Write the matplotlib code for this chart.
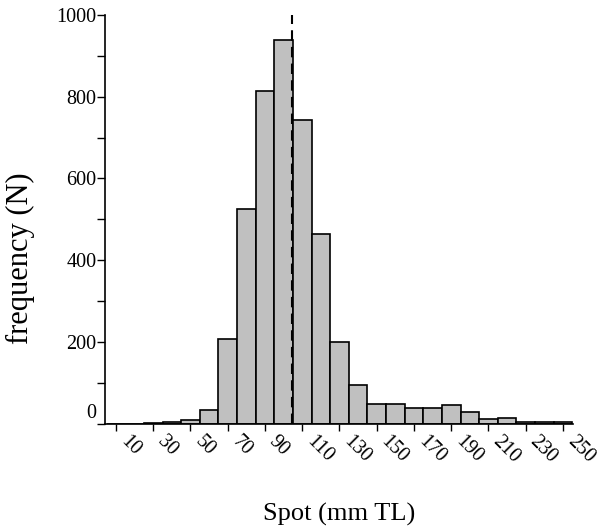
import matplotlib.pyplot as plt
import matplotlib.transforms as mtransforms
import numpy as np

# size classes (mm TL), bar centres
size_class = [10, 20, 30, 40, 50, 60, 70, 80, 90, 100, 110, 120, 130,
              140, 150, 160, 170, 180, 190, 200, 210, 220, 230, 240, 250]
frequency = [0, 0, 1, 4, 8, 32, 207, 525, 815, 940, 743, 464, 200,
             94, 48, 48, 38, 38, 45, 27, 10, 14, 3, 3, 3]
mean_size = 104.3
tick_labels = [10, 30, 50, 70, 90, 110, 130, 150, 170, 190, 210, 230, 250]

plt.rcParams['font.family'] = ['Liberation Serif', 'DejaVu Serif']

fig = plt.figure(figsize=(6.03, 5.31), dpi=100)
ax = fig.add_axes([105/603, 1 - 423.5/531, (573 - 105)/603, (423.5 - 15)/531])

ax.bar(size_class, frequency, width=10, color='#c0c0c0', edgecolor='black',
       linewidth=1.2, zorder=2)
ax.vlines(mean_size, 0, 1000, colors='black', linestyles=(0, (5, 3)),
          linewidth=1.5, zorder=3)

ax.set_xlim(4.1, 255.4)
ax.set_ylim(0, 1000)

ax.spines['top'].set_visible(False)
ax.spines['right'].set_visible(False)
for s in ['left', 'bottom']:
    ax.spines[s].set_linewidth(1.2)

ax.set_yticks(np.arange(0, 1001, 200))
ax.set_yticks(np.arange(100, 1000, 200), minor=True)
ax.tick_params(axis='y', which='both', direction='out', length=6, width=1,
               labelsize=14.5, pad=0)
for lab in ax.get_yticklabels():
    if lab.get_text() == '0':
        lab.set_va('bottom')

ax.set_xticks(tick_labels)
ax.set_xticklabels([str(t) for t in tick_labels], rotation=-45, ha='left',
                   va='center', rotation_mode='anchor')
ax.tick_params(axis='x', direction='out', length=5, width=1, labelsize=14.5, pad=6)
shift = mtransforms.ScaledTranslation(7/100, 0, fig.dpi_scale_trans)
for lab in ax.get_xticklabels():
    lab.set_transform(lab.get_transform() + shift)

ax.set_ylabel('frequency (N)', fontsize=22)
ax.yaxis.set_label_coords(35/603, 1 - 258.5/531, transform=fig.transFigure)
ax.set_xlabel('Spot (mm TL)', fontsize=19)
ax.xaxis.set_label_coords(339/603, 1 - 503/531, transform=fig.transFigure)

fig.savefig('out.png', dpi=100)
